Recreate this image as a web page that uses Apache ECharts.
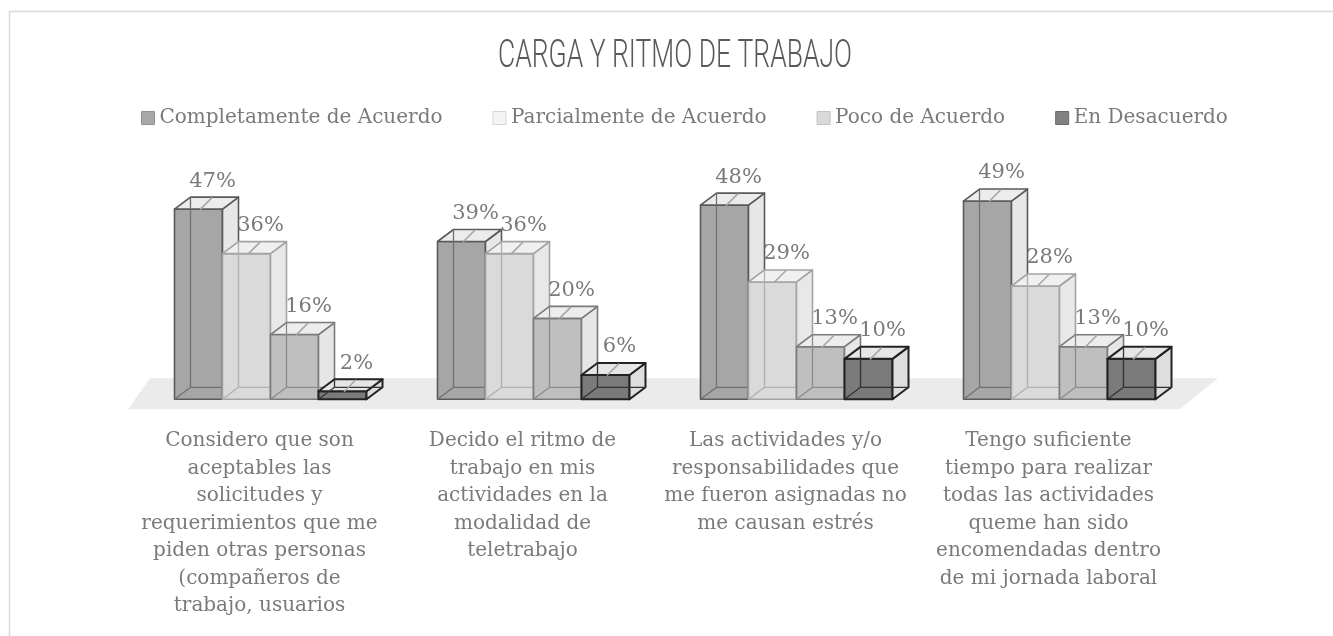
<!DOCTYPE html>
<html><head><meta charset="utf-8">
<script src="https://cdn.jsdelivr.net/npm/echarts@6/dist/echarts.min.js"></script>
<style>html,body{margin:0;padding:0;background:#fff}#c{width:1333px;height:636px}</style>
</head><body><div id="c"></div>
<script>
// ---- data ----
const titleText = 'CARGA Y RITMO DE TRABAJO';
const seriesNames = ['Completamente de Acuerdo', 'Parcialmente de Acuerdo', 'Poco de Acuerdo', 'En Desacuerdo'];
const categories = [
  'Considero que son\naceptables las\nsolicitudes y\nrequerimientos que me\npiden otras personas\n(compañeros de\ntrabajo, usuarios',
  'Decido el ritmo de\ntrabajo en mis\nactividades en la\nmodalidad de\nteletrabajo',
  'Las actividades y/o\nresponsabilidades que\nme fueron asignadas no\nme causan estrés',
  'Tengo suficiente\ntiempo para realizar\ntodas las actividades\nqueme han sido\nencomendadas dentro\nde mi jornada laboral'
];
const completamente = [47, 39, 48, 49];
const parcialmente = [36, 36, 29, 28];
const poco = [16, 20, 13, 13];
const desacuerdo = [2, 6, 10, 10];
const seriesValues = [completamente, parcialmente, poco, desacuerdo];

// ---- styles ----
const FONT = 'DejaVu Serif';
const TEXT = '#7a7a7a';
const DX = 16, DY = -12;           // pseudo-3D depth offset
const BAR_FRAC = 48 / 263;         // bar width relative to category band
const faceStyles = [
  {front: '#a6a6a6', top: '#ececec', side: '#e7e7e7', stroke: '#5a5a5a', hidden: '#707070', lw: 1.6},
  {front: '#dadada', top: '#f0f0f0', side: '#e8e8e8', stroke: '#a3a3a3', hidden: '#b0b0b0', lw: 1.6},
  {front: '#bfbfbf', top: '#ededed', side: '#e6e6e6', stroke: '#7a7a7a', hidden: '#8a8a8a', lw: 1.6},
  {front: '#7a7a7a', top: '#e6e6e6', side: '#dedede', stroke: '#222222', hidden: '#333333', lw: 2}
];
const legendIcon = [
  {color: '#a8a8a8', borderColor: '#909090'},
  {color: '#f4f4f4', borderColor: '#d6d6d6'},
  {color: '#d9d9d9', borderColor: '#c2c2c2'},
  {color: '#808080', borderColor: '#6a6a6a'}
];

const cv = document.createElement('canvas').getContext('2d');
cv.font = '300 39px Roboto';
const titleScale = 354 / cv.measureText(titleText).width;

function barRenderer(si) {
  const st = faceStyles[si];
  return function (params, api) {
    const cat = api.value(0), val = api.value(1);
    const top = api.coord([cat, val]);
    const base = api.coord([cat, 0]);
    const bw = api.size([1, 0])[0];
    const w = bw * BAR_FRAC;
    const x0 = top[0] - 2 * w + si * w, x1 = x0 + w;
    const yT = top[1], yB = base[1];
    const line = (a, b, c, d, col, lw) => ({type: 'line', shape: {x1: a, y1: b, x2: c, y2: d}, style: {stroke: col, lineWidth: lw, fill: null}});
    const poly = (pts, fill) => ({type: 'polygon', shape: {points: pts}, style: {fill: fill, stroke: st.stroke, lineWidth: st.lw, lineJoin: 'round'}});
    const fc = (x0 + x1) / 2;
    return {
      type: 'group',
      children: [
        poly([[x0, yT], [x1, yT], [x1, yB], [x0, yB]], st.front),
        poly([[x1, yT], [x1 + DX, yT + DY], [x1 + DX, yB + DY], [x1, yB]], st.side),
        poly([[x0, yT], [x0 + DX, yT + DY], [x1 + DX, yT + DY], [x1, yT]], st.top),
        line(x0 + DX, yT + DY, x0 + DX, yB + DY, st.hidden, 1.3),
        line(x0 + DX, yB + DY, x1 + DX, yB + DY, st.hidden, 1.3),
        line(x0, yB, x0 + DX, yB + DY, st.hidden, 1.3),
        line(fc + 1.5, yT + 0.5, fc + DX - 2.5, yT + DY + 0.5, '#a6a6a6', 1.6),
        {type: 'text', z2: 100, style: {text: val + '%', x: fc + DX - 2, y: yT + DY - 16,
          align: 'center', verticalAlign: 'middle', fill: TEXT, fontSize: 21, fontFamily: FONT}}
      ]
    };
  };
}

function floorRenderer(params, api) {
  const bw = api.size([1, 0])[0];
  const left = api.coord([0, 0])[0] - bw / 2;
  const right = api.coord([categories.length - 1, 0])[0] + bw / 2;
  const y = api.coord([0, 0])[1];
  return {
    type: 'polygon', z2: -10,
    shape: {points: [[left - 11, y + 10], [right - 11, y + 10], [right + 27, y - 21], [left + 11, y - 21]]},
    style: {fill: '#ebebeb'}
  };
}

const series = [{
  type: 'custom', name: 'floor', xAxisIndex: 0, yAxisIndex: 0, data: [[0, 0]],
  renderItem: floorRenderer, silent: true, clip: false, z: 1
}];
seriesNames.forEach((n, si) => {
  series.push({
    type: 'custom', name: n, xAxisIndex: 0, yAxisIndex: 0, clip: false, z: 2,
    itemStyle: {color: legendIcon[si].color},
    data: seriesValues[si].map((v, i) => [i, v]),
    renderItem: barRenderer(si)
  });
});

const chart = echarts.init(document.getElementById('c'), null, {renderer: 'canvas'});
chart.setOption({
  animation: false,
  backgroundColor: '#ffffff',
  graphic: [
    {type: 'rect', silent: true, z: -10, shape: {x: 9.5, y: 11.5, width: 1400, height: 700},
      style: {fill: 'none', stroke: '#d9d9d9', lineWidth: 1.5}},
    {type: 'text', x: 675, y: 57, scaleX: titleScale,
      style: {text: titleText, fontSize: 39, fontWeight: 300, fontFamily: 'Roboto', fill: '#595959',
        align: 'center', verticalAlign: 'middle'}}
  ],
  legend: {
    left: 141, top: 108, itemGap: 50, itemWidth: 13, itemHeight: 13, icon: 'rect', padding: 0,
    textStyle: {fontFamily: FONT, fontSize: 20, color: TEXT},
    data: seriesNames.map((n, i) => ({name: n, itemStyle: {color: legendIcon[i].color, borderColor: legendIcon[i].borderColor, borderWidth: 1}}))
  },
  grid: [
    {left: 139, width: 1052, top: 197, bottom: 236.7},
    {left: 128, width: 1052, top: 197, bottom: 236.7}
  ],
  xAxis: [
    {type: 'category', gridIndex: 0, data: categories, show: false},
    {type: 'category', gridIndex: 1, data: categories,
      axisLine: {show: false}, axisTick: {show: false}, splitLine: {show: false},
      axisLabel: {interval: 0, margin: 28, fontFamily: FONT, fontSize: 20, lineHeight: 27.5, color: TEXT, align: 'center'}}
  ],
  yAxis: [
    {type: 'value', gridIndex: 0, min: 0, max: 50, show: false},
    {type: 'value', gridIndex: 1, min: 0, max: 50, show: false}
  ],
  series: series
});
</script></body></html>
